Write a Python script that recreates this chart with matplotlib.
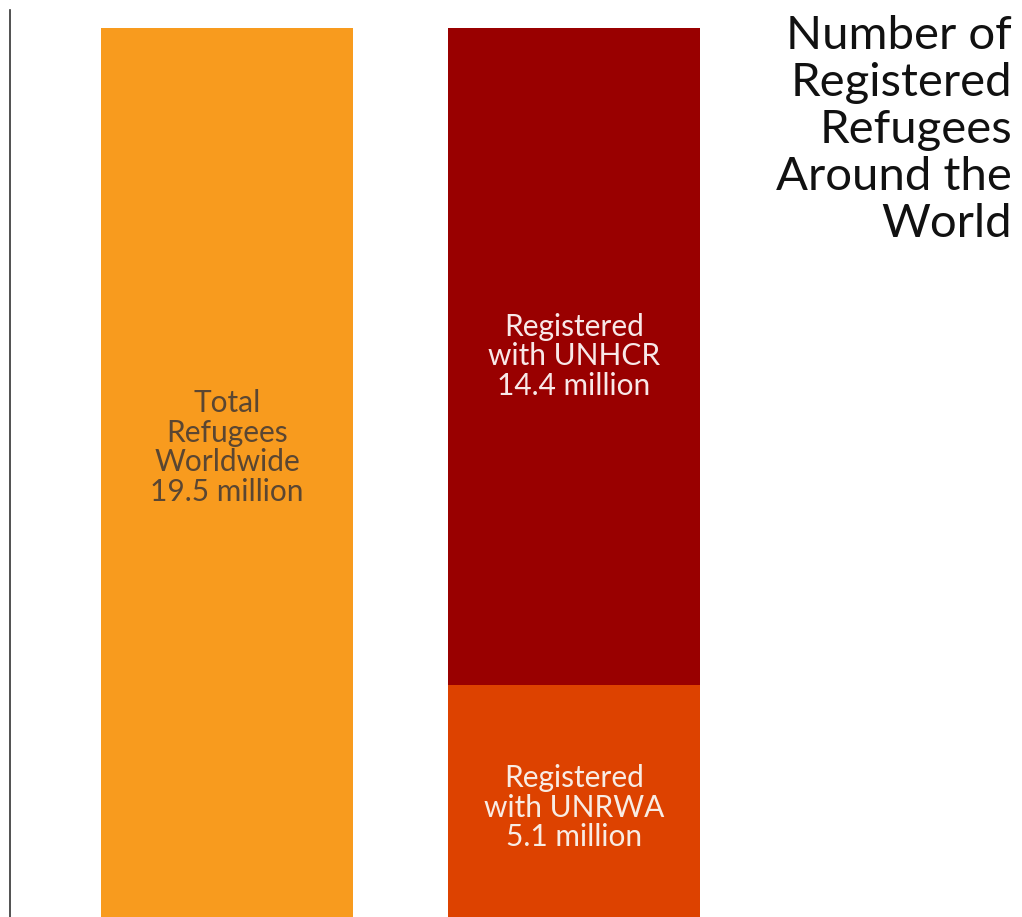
import matplotlib
matplotlib.use("Agg")
import matplotlib.pyplot as plt

categories = ["Total", "Registered"]
total = [19.5]
unrwa = [5.1]
unhcr = [14.4]
labels_total = "Total\nRefugees\nWorldwide\n19.5 million"
label_unhcr = "Registered\nwith UNHCR\n14.4 million"
label_unrwa = "Registered\nwith UNRWA\n5.1 million"
title = "Number of\nRegistered\nRefugees\nAround the\nWorld"

fig = plt.figure(figsize=(10.22, 9.17), dpi=100)
ax = fig.add_axes([10/1022, 0, 1012/1022, 907/917])
ax.set_xlim(-0.625, 2.291)
ax.set_ylim(0, 19.9)

w = 0.726
ax.bar([0], total, width=w, color="#F89B1E")
ax.bar([1], unrwa, width=w, color="#DD4200")
ax.bar([1], unhcr, bottom=unrwa, width=w, color="#990000")

font = "Lato"
ax.text(0, 10.3, labels_total, ha="center", va="center", fontsize=21.5,
        color="#5A4632", linespacing=1.08, family=font)
ax.text(1, 12.3, label_unhcr, ha="center", va="center", fontsize=21.5,
        color="#F8E8E8", linespacing=1.08, family=font)
ax.text(1, 2.4, label_unrwa, ha="center", va="center", fontsize=21.5,
        color="#F8ECE4", linespacing=1.08, family=font)

fig.text(1012/1022, 1 - 15/917, title, ha="right", va="top", fontsize=34,
         color="#111111", linespacing=1.15, family=font)

for s in ["top", "right", "bottom"]:
    ax.spines[s].set_visible(False)
ax.spines["left"].set_color("#333333")
ax.spines["left"].set_linewidth(1.2)
ax.set_xticks([])
ax.set_yticks([])

fig.savefig("out.png", dpi=100)
